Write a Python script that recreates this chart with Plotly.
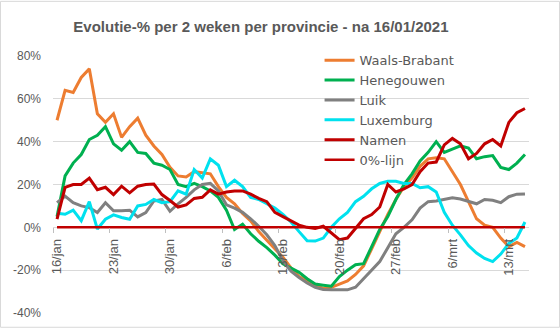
import pandas as pd
import plotly.graph_objects as go

# ---- data ----
dates = pd.date_range("2021-01-16", "2021-03-15", freq="D")

waals_brabant = [50, 64, 63, 70, 74, 53, 49, 53, 42, 47,
                 51, 43, 38, 34, 28, 24, 23.5, 26, 25.5, 25,
                 19, 14, 11, 6.5, 3, -2, -6, -10, -14, -19,
                 -23, -25, -27, -28.5, -28, -26.5, -25, -22, -18, -10,
                 -2, 6, 13, 19, 23, 28.5, 32, 32.5, 32, 26,
                 20, 12, 4, 1, 0, -5, -9, -7, -9]
henegouwen = [5, 24, 30, 34, 41, 43, 47, 39, 36, 40,
              35, 34.5, 30, 29, 27, 20, 19, 20.5, 19, 17,
              14, 8, -1, 1.5, -3, -6.5, -9.5, -13, -17, -19,
              -21, -24, -26.5, -27, -27.5, -23, -20, -17.5, -17, -9,
              -1, 5, 13, 20, 25, 31, 35, 40, 35, 36.5,
              38, 37, 32, 33, 33.5, 28, 27, 30, 34]
luik = [11.5, 14.6, 11.5, 10, 9.2, 6.9, 11.5, 7.7, 7.7, 8,
        4.9, 6.9, 12.3, 13, 7.5, 11, 14, 17.5, 20, 20.5,
        17, 10.5, 9, 7, 4, 0.5, -3.5, -8.5, -15.5, -20.5,
        -23.5, -26, -28, -29, -29.2, -29.2, -29.2, -28, -24, -19.5,
        -16, -9.5, -3, 0, 3.5, 9, 12, 12.3, 13, 13.8,
        13.2, 12, 11, 13, 12.6, 11.5, 14.3, 15.5, 15.6]
luxemburg = [6.6, 6.1, 8, 3.1, 12, -0.8, 3.8, 5.8, 4.6, 3.8,
             10, 10.7, 13, 11.5, 12, 17, 15.5, 27, 23, 32,
             29, 19, 22, 19, 14, 13, 11, 9, 6, 2.5,
             -2, -6.3, -6.4, -5, 0, 4, 7, 12, 14.5, 18,
             20.5, 21.5, 21.5, 20.5, 20.5, 18.5, 19, 16.5, 7, 1,
             -3.5, -8.5, -12, -14.5, -16, -12.5, -7.5, -5, 2.5]
namen = [3.8, 18.7, 20, 20, 23, 17.6, 18.7, 15.3, 19.2, 16.1,
         19.2, 20, 20.2, 15.3, 12.5, 9.5, 10.5, 13.5, 14, 17.5,
         15.5, 16.5, 17, 17, 15.5, 13.5, 12, 7, 5, 3,
         1, 0, -0.5, 0.5, -2.5, -5.8, -5, -0.5, 4, 6,
         9.5, 20, 16.5, 18, 20, 26, 30, 30.5, 38.5, 41.5,
         39, 32, 34.5, 39, 41, 38, 49, 53.5, 55.5]
nul_lijn = [0] * len(dates)

series_names = ["Waals-Brabant", "Henegouwen", "Luik", "Luxemburg", "Namen", "0%-lijn"]
series_values = [waals_brabant, henegouwen, luik, luxemburg, namen, nul_lijn]
series_colors = ["#ED7D31", "#00B050", "#808080", "#00E1EE", "#C00000", "#C00000"]
series_widths = [3, 3, 3, 3, 3, 2.5]

tick_dates = ["2021-01-16", "2021-01-23", "2021-01-30", "2021-02-06", "2021-02-13",
              "2021-02-20", "2021-02-27", "2021-03-06", "2021-03-13"]
tick_labels = ["16/jan", "23/jan", "30/jan", "6/feb", "13/feb",
               "20/feb", "27/feb", "6/mrt", "13/mrt"]
y_ticks = [-40, -20, 0, 20, 40, 60, 80]
y_labels = ["-40%", "-20%", "0%", "20%", "40%", "60%", "80%"]

FONT = "Liberation Sans"
GREY = "#595959"

fig = go.Figure()
for name, vals, col, w in zip(series_names, series_values, series_colors, series_widths):
    fig.add_trace(go.Scatter(x=dates, y=vals, mode="lines", name=name,
                             line=dict(color=col, width=w)))

minor_ticks = [(pd.Timestamp(d) - pd.Timedelta(hours=12)) for d in tick_dates]

fig.update_layout(
    width=560, height=332,
    margin=dict(l=53, r=31, t=56, b=15),
    paper_bgcolor="white", plot_bgcolor="white",
    title=dict(text="<b>Evolutie-% per 2 weken per provincie - na 16/01/2021</b>",
               x=0.466, xanchor="center", xref="container",
               y=0.918, yanchor="middle", yref="container",
               font=dict(family=FONT, size=15, color=GREY)),
    font=dict(family=FONT, color=GREY),
    legend=dict(x=0.56, y=1.042, xanchor="left", yanchor="top",
                bgcolor="rgba(0,0,0,0)",
                font=dict(family="DejaVu Sans", size=13, color=GREY),
                itemwidth=30),
    showlegend=True,
)
fig.update_xaxes(
    range=[pd.Timestamp("2021-01-15 12:00"), pd.Timestamp("2021-03-15 12:00")],
    tickmode="array", tickvals=tick_dates, ticktext=tick_labels,
    tickangle=-90, tickfont=dict(size=13, color=GREY),
    showgrid=False, zeroline=False, showline=False, ticks="",
    anchor="free", position=1/3, ticklabelstandoff=8,
    minor=dict(tickvals=minor_ticks, ticks="outside", ticklen=5,
               tickcolor="#BFBFBF", showgrid=False),
)
fig.update_yaxes(
    range=[-40, 80], tickmode="array", tickvals=y_ticks, ticktext=y_labels,
    tickfont=dict(size=12, color=GREY), showgrid=True, gridcolor="#D9D9D9",
    gridwidth=1, zeroline=False, showline=False, ticks="",
    ticklabelstandoff=11,
)
fig.add_shape(type="rect", xref="paper", yref="paper",
              x0=(0.5 - 53) / 476, x1=(559.5 - 53) / 476,
              y0=(317 - 331.5) / 261, y1=(317 - 0.5) / 261,
              line=dict(color="#D9D9D9", width=1), layer="below")

fig.write_html("out.html")
